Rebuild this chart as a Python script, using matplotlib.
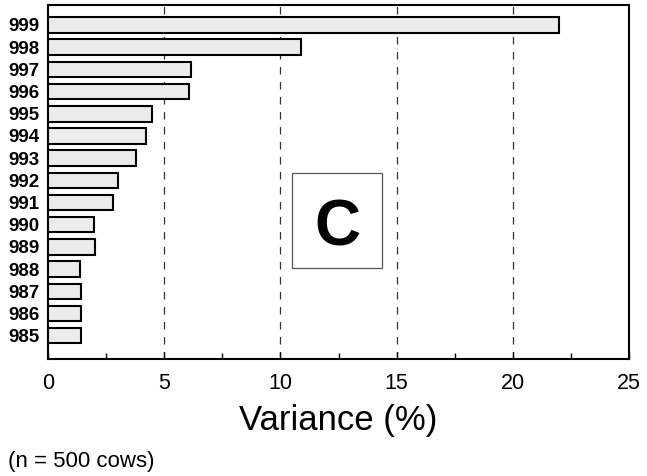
import matplotlib
matplotlib.use("Agg")
import matplotlib.pyplot as plt
from matplotlib.ticker import MultipleLocator
from matplotlib.patches import Rectangle

plt.rcParams['font.family'] = ['Liberation Sans', 'DejaVu Sans']

categories = ['985', '986', '987', '988', '989', '990', '991', '992',
              '993', '994', '995', '996', '997', '998', '999']
variance = [1.42, 1.40, 1.42, 1.38, 2.02, 1.98, 2.80, 3.00,
            3.78, 4.20, 4.47, 6.06, 6.15, 10.9, 22.0]
xticks = [0, 5, 10, 15, 20, 25]
grid_x = [5, 10, 15, 20]

fig = plt.figure(figsize=(6.47, 4.76), dpi=100)
ax = fig.add_axes([48/647, 117/476, 581/647, 354/476])

ypos = list(range(len(categories)))
ax.barh(ypos, variance, height=0.7, color='#ebebeb', edgecolor='black', linewidth=1.5, zorder=3)

for gx in grid_x:
    ax.axvline(gx, color='#333333', linewidth=0.9, linestyle=(0, (6, 6)), zorder=1)

ax.set_xlim(0, 25)
ax.set_ylim(-1.05, 14.9)
ax.set_xticks(xticks)
ax.set_xticklabels([str(t) for t in xticks], fontsize=15.5)
ax.xaxis.set_minor_locator(MultipleLocator(2.5))
ax.set_yticks(ypos)
ax.set_yticklabels(categories, fontsize=13.5, fontweight='bold')
ax.tick_params(axis='x', which='major', direction='in', length=5, width=1, pad=10)
ax.tick_params(axis='x', which='minor', direction='in', length=4, width=1)
ax.tick_params(axis='y', direction='in', length=6, width=1, pad=6)
for s in ax.spines.values():
    s.set_linewidth(1.5)

ax.set_xlabel('Variance (%)', fontsize=25, labelpad=7)

# Panel label box
ax.add_patch(Rectangle((0.42, 0.257), 0.155, 0.268, transform=ax.transAxes,
                       fill=True, facecolor='white', edgecolor='#555555', linewidth=0.9, zorder=4))
ax.text(0.4975, 0.37, 'C', transform=ax.transAxes, fontsize=46, fontweight='bold',
        ha='center', va='center', zorder=5)

fig.text(8/647, 1 - 462/476, '(n = 500 cows)', fontsize=16, ha='left', va='center')

fig.savefig('out.png', dpi=100)
